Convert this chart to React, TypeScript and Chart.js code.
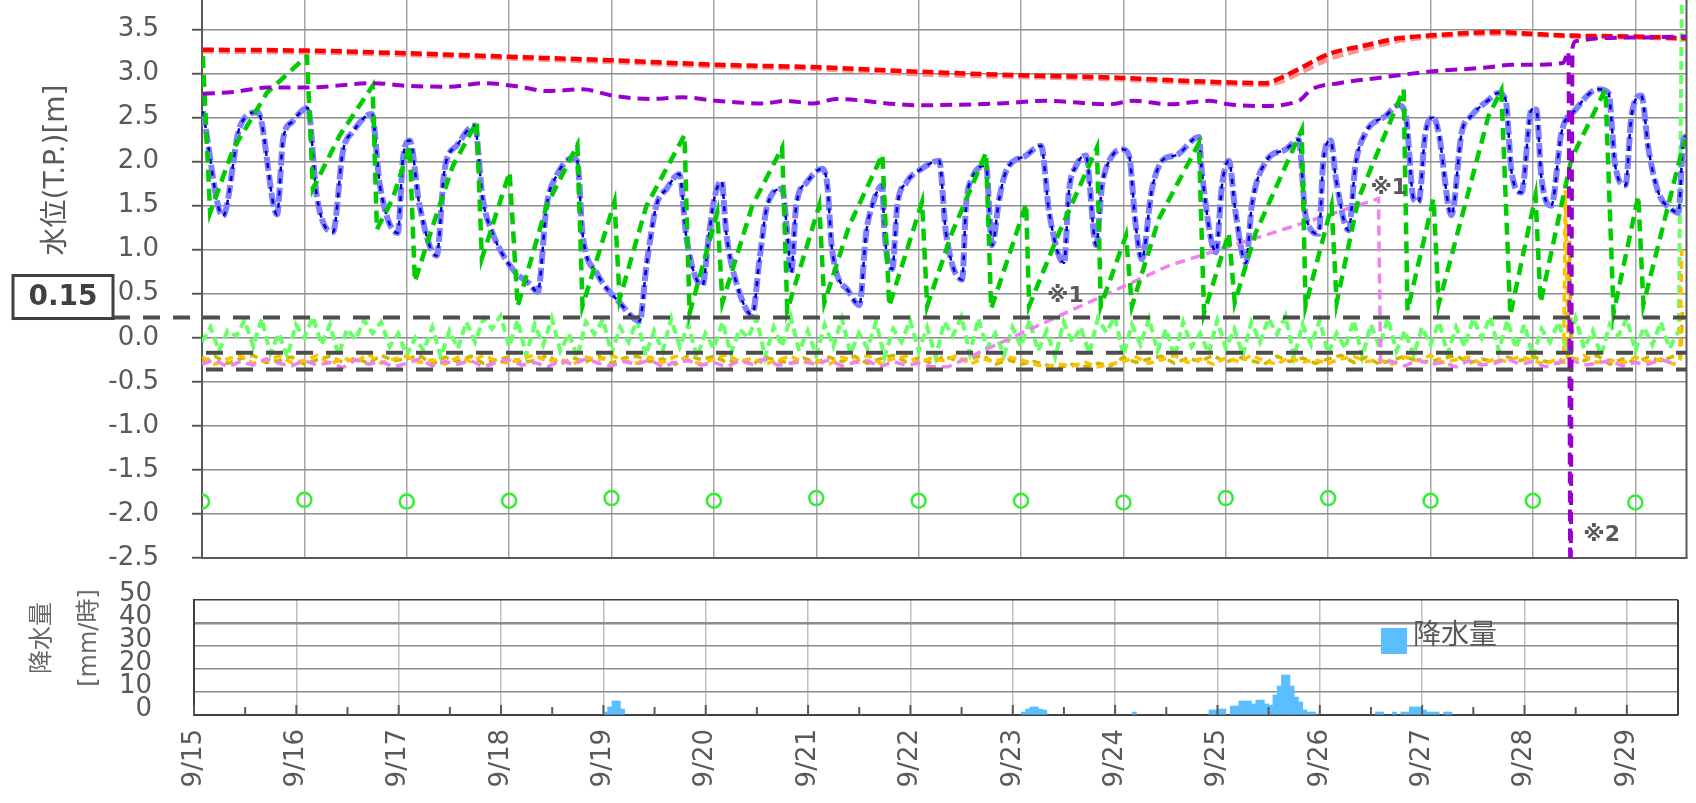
import React, { useEffect, useRef } from 'react';
import { Chart, registerables } from 'chart.js';

Chart.register(...registerables);

const FONT = '"DejaVu Sans", "Noto Sans CJK JP", sans-serif';
const TEXT = '#595959';

// ---------- axes ----------
const X_MIN = 0;
const X_MAX = 348; // hours from 9/15 00:00
const dayHours = [0, 24, 48, 72, 96, 120, 144, 168, 192, 216, 240, 264, 288, 312, 336];
const dayLabels = ['9/15', '9/16', '9/17', '9/18', '9/19', '9/20', '9/21', '9/22', '9/23', '9/24', '9/25', '9/26', '9/27', '9/28', '9/29'];
const halfDayHours = [12, 36, 60, 84, 108, 132, 156, 180, 204, 228, 252, 276, 300, 324];
const WATER_MIN = -2.5;
const WATER_MAX = 3.84;
const waterTicks = [-2.5, -2, -1.5, -1, -0.5, 0, 0.5, 1, 1.5, 2, 2.5, 3, 3.5];
const RAIN_MIN = 0;
const RAIN_MAX = 50;
const rainTicks = [0, 10, 20, 30, 40, 50];

// ---------- reference levels & notes ----------
const refLevels = [0.23, -0.17, -0.36];
const refBoxText = '0.15';
const noteTexts = ['※1', '※1', '※2'];
const noteHours = [198.1, 273.9, 323.8];
const noteLevels = [0.47, 1.7, -2.24];

// ---------- series ----------
const redT = [0.2, 24.6, 48.0, 72.1, 96.2, 120.6, 144.7, 168.1, 192.0, 216.1, 224.3, 240.0, 249.4, 252.4, 257.1, 264.1, 272.8, 280.5, 287.5, 303.9, 311.7, 321.0, 335.5, 348];
const redV = [3.27, 3.26, 3.23, 3.19, 3.15, 3.10, 3.07, 3.02, 2.98, 2.95, 2.93, 2.90, 2.89, 2.94, 3.05, 3.22, 3.32, 3.40, 3.43, 3.47, 3.45, 3.43, 3.42, 3.40];
const pinkV = [3.25, 3.24, 3.21, 3.17, 3.13, 3.08, 3.05, 2.99, 2.96, 2.93, 2.91, 2.88, 2.87, 2.90, 3.00, 3.16, 3.28, 3.37, 3.41, 3.45, 3.44, 3.42, 3.41, 3.39];

const purpleT = [0.2, 7.3, 15.2, 24.6, 40.0, 48.0, 58.1, 65.8, 74.5, 80.8, 89.2, 96.2, 104.9, 112.6, 120.6, 131.4, 137.0, 143.1, 148.7, 163.4, 168.1, 186.9, 197.9, 212.6, 218.5, 226.7, 236.0, 240.7, 247.7, 257.1, 260.1, 266.5, 275.8, 287.5, 301.6, 307.0, 311.7, 319.1, 320.3, 320.8, 321.3, 322.2, 327.3, 339.1, 348];
const purpleV = [2.77, 2.79, 2.84, 2.84, 2.89, 2.86, 2.85, 2.89, 2.85, 2.80, 2.82, 2.75, 2.71, 2.73, 2.69, 2.66, 2.69, 2.66, 2.71, 2.65, 2.64, 2.66, 2.69, 2.65, 2.69, 2.65, 2.69, 2.65, 2.63, 2.69, 2.82, 2.89, 2.95, 3.02, 3.07, 3.10, 3.10, 3.12, 3.25, -3.0, 3.30, 3.37, 3.40, 3.41, 3.42];

const blueT = [0.2, 4.9, 8.9, 13.1, 17.6, 19.0, 21.1, 24.8, 26.9, 30.7, 33.0, 35.4, 39.8, 41.7, 45.9, 47.1, 48.7, 51.0, 55.0, 56.9, 59.7, 63.9, 65.8, 68.1, 72.8, 76.8, 78.7, 80.8, 83.1, 86.9, 88.0, 89.2, 92.5, 97.9, 102.6, 104.2, 106.5, 108.9, 111.9, 113.6, 117.3, 118.9, 120.1, 121.8, 122.9, 125.3, 129.0, 130.7, 132.5, 136.0, 137.2, 138.1, 139.3, 141.7, 145.4, 146.6, 147.7, 151.7, 154.1, 155.7, 157.1, 159.5, 159.9, 161.8, 163.0, 165.1, 168.8, 172.8, 174.4, 178.2, 179.1, 180.5, 183.8, 185.2, 186.9, 188.5, 193.2, 196.7, 198.6, 202.1, 203.2, 204.9, 207.2, 209.6, 211.0, 212.6, 215.7, 217.3, 218.9, 220.3, 222.7, 225.5, 228.3, 233.7, 234.4, 237.7, 239.1, 240.7, 242.3, 244.7, 246.1, 249.4, 254.1, 257.1, 258.7, 261.8, 262.9, 264.6, 265.8, 268.8, 270.4, 272.8, 277.5, 280.5, 282.2, 284.0, 285.2, 286.8, 288.7, 289.9, 292.9, 295.3, 297.6, 301.6, 303.9, 305.6, 307.0, 309.3, 311.7, 312.8, 314.0, 316.3, 318.7, 322.0, 327.3, 329.7, 331.3, 333.7, 335.1, 337.4, 339.1, 341.4, 344.4, 346.1, 347.3, 348];
const blueV = [2.57, 1.38, 2.40, 2.56, 1.40, 2.25, 2.45, 2.61, 1.61, 1.20, 2.11, 2.34, 2.54, 1.73, 1.19, 2.03, 2.24, 1.50, 0.93, 1.92, 2.18, 2.41, 1.58, 1.19, 0.78, 0.61, 0.52, 1.50, 1.84, 2.04, 2.00, 1.19, 0.74, 0.40, 0.19, 0.82, 1.50, 1.69, 1.86, 1.12, 0.59, 1.19, 1.58, 1.78, 1.19, 0.62, 0.26, 0.89, 1.50, 1.69, 1.19, 0.73, 1.50, 1.76, 1.92, 1.73, 1.00, 0.52, 0.37, 1.19, 1.50, 1.73, 1.27, 0.78, 1.50, 1.76, 1.92, 2.01, 1.19, 0.66, 1.50, 1.81, 1.95, 1.05, 1.58, 1.89, 2.07, 2.18, 1.42, 0.85, 1.65, 1.95, 2.07, 1.05, 1.73, 2.00, 2.14, 2.07, 1.27, 0.89, 1.69, 2.03, 2.07, 2.28, 1.88, 0.97, 1.73, 2.01, 1.42, 0.85, 1.50, 2.00, 2.14, 2.25, 1.39, 1.18, 2.03, 2.24, 1.81, 1.22, 1.96, 2.33, 2.52, 2.64, 2.52, 1.58, 1.54, 2.33, 2.50, 2.33, 1.39, 2.33, 2.52, 2.70, 2.78, 2.70, 1.88, 1.65, 2.59, 2.59, 1.81, 1.50, 2.33, 2.59, 2.82, 2.78, 1.95, 1.73, 2.52, 2.75, 2.14, 1.65, 1.46, 1.42, 2.25, 2.29];

const greenT = [0.2, 1.9, 7.3, 15.2, 24.6, 26.0, 32.3, 40.0, 41.0, 44.7, 48.7, 49.9, 54.1, 58.8, 64.4, 65.6, 72.1, 74.0, 80.8, 88.0, 89.2, 96.7, 97.9, 104.2, 113.1, 114.3, 120.8, 122.0, 129.0, 136.0, 137.2, 144.7, 145.9, 151.7, 159.5, 161.1, 168.8, 170.0, 175.8, 183.8, 185.0, 193.2, 193.9, 200.9, 209.8, 210.7, 216.6, 218.0, 224.3, 233.7, 234.9, 240.7, 242.1, 247.0, 257.8, 258.7, 264.8, 266.0, 271.1, 281.7, 282.6, 288.7, 289.9, 301.6, 304.6, 306.7, 312.6, 313.8, 321.0, 329.0, 330.9, 336.7, 337.9, 346.8, 347.7];
const greenV = [3.20, 1.42, 2.14, 2.78, 3.20, 1.69, 2.30, 2.86, 1.23, 1.58, 2.18, 0.64, 1.27, 1.95, 2.45, 0.90, 1.88, 0.36, 1.50, 2.19, 0.36, 1.54, 0.44, 1.50, 2.30, 0.28, 1.42, 0.40, 1.50, 2.16, 0.31, 1.50, 0.40, 1.27, 2.08, 0.36, 1.54, 0.36, 1.19, 2.10, 0.33, 1.52, 0.36, 1.19, 2.16, 0.36, 1.16, 0.36, 1.35, 2.21, 0.28, 1.19, 0.40, 1.19, 2.36, 0.36, 1.50, 0.40, 1.58, 2.82, 0.31, 1.58, 0.38, 2.52, 2.81, 0.26, 1.61, 0.40, 2.03, 2.82, 0.28, 1.61, 0.38, 2.10, 2.25];

// light green: every 2 h from 9/15 00:00
const LIGHT_GREEN_STEP = 2;
const lightGreenV = [
  -0.05, 0.12, -0.15, 0.08, 0.02, 0.2, -0.1, 0.22, -0.18, 0.05, -0.22, 0.15,
  0.0, 0.24, -0.08, 0.15, -0.2, 0.1, -0.02, 0.2, 0.05, 0.18, -0.1, 0.05,
  -0.2, 0.0, -0.15, 0.12, -0.22, 0.08, -0.12, 0.18, -0.05, 0.22, 0.1, 0.25,
  -0.1, 0.2, -0.2, 0.15, -0.08, 0.22, -0.15, 0.05, -0.22, 0.18, 0.04, 0.21,
  -0.18, 0.12, -0.05, 0.2, -0.2, 0.08, -0.15, 0.22, -0.1, 0.15, -0.22, 0.05,
  -0.12, 0.18, -0.18, 0.1, 0.0, 0.22, -0.22, 0.12, -0.1, 0.24, -0.15, 0.08,
  -0.2, 0.15, -0.1, 0.22, -0.18, 0.05, -0.12, 0.18, -0.22, 0.1, -0.05, 0.2,
  -0.15, 0.12, -0.22, 0.18, 0.02, 0.24, -0.18, 0.22, -0.12, 0.05, -0.2, 0.12,
  -0.1, 0.2, -0.15, 0.08, -0.22, 0.18, -0.05, 0.12, -0.18, 0.22, 0.06, 0.24,
  -0.2, 0.15, -0.08, 0.22, -0.15, 0.1, -0.22, 0.18, -0.1, 0.05, -0.18, 0.2,
  -0.12, 0.1, -0.2, 0.18, -0.05, 0.22, 0.04, 0.25, -0.22, 0.15, -0.08, 0.2,
  -0.18, 0.05, -0.12, 0.2, -0.22, 0.15, -0.1, 0.22, -0.15, 0.08, -0.2, 0.12,
  -0.08, 0.18, -0.18, 0.12, -0.1, 0.22, 0.0, 0.24, -0.15, 0.2, -0.12, 0.15,
  -0.22, 0.1, -0.05, 0.18, -0.15, 0.22, -0.12, 0.08, -0.2, 0.15, 0.02, 0.22,
  -0.15, 0.12, -0.08, 0.18, -0.12,
];
const lightGreenEndT = [346.2, 347.0];
const lightGreenEndV = [0.08, 4.3];

// gold & olive: every 3 h
const NOISE_STEP = 3;
const goldV = [
  -0.22, -0.3, -0.24, -0.2, -0.29, -0.25, -0.21, -0.28,
  -0.26, -0.2, -0.3, -0.23, -0.27, -0.19, -0.29, -0.24,
  -0.21, -0.28, -0.25, -0.3, -0.22, -0.27, -0.2, -0.26,
  -0.29, -0.23, -0.2, -0.27, -0.24, -0.3, -0.22, -0.25,
  -0.2, -0.26, -0.29, -0.22, -0.28, -0.21, -0.25, -0.3,
  -0.24, -0.19, -0.27, -0.23, -0.3, -0.25, -0.21, -0.28,
  -0.26, -0.3, -0.22, -0.27, -0.2, -0.29, -0.24, -0.21,
  -0.28, -0.23, -0.26, -0.2, -0.3, -0.24, -0.27, -0.22,
  -0.25, -0.3, -0.33, -0.3, -0.32, -0.28, -0.33, -0.3,
  -0.27, -0.22, -0.29, -0.25, -0.2, -0.28, -0.24, -0.3,
  -0.23, -0.27, -0.2, -0.26, -0.3, -0.22, -0.28, -0.25,
  -0.29, -0.24, -0.21, -0.27, -0.25, -0.3, -0.22, -0.26,
  -0.2, -0.28, -0.25, -0.22, -0.3, -0.24, -0.27, -0.21,
  -0.26, -0.3, -0.23, -0.27, -0.2, -0.28, -0.25, -0.29,
  -0.22, -0.27, -0.24, -0.3,
];
const goldExtraT = [319.2, 319.6, 320.3, 346.4, 346.9];
const goldExtraV = [-0.27, 1.68, -0.26, -0.25, 1.0];

const oliveV = [
  -0.27, -0.21, -0.29, -0.24, -0.2, -0.28, -0.26, -0.22,
  -0.3, -0.25, -0.21, -0.28, -0.23, -0.29, -0.2, -0.26,
  -0.24, -0.2, -0.3, -0.22, -0.27, -0.21, -0.29, -0.25,
  -0.22, -0.28, -0.26, -0.2, -0.3, -0.23, -0.27, -0.21,
  -0.29, -0.23, -0.21, -0.27, -0.24, -0.3, -0.2, -0.25,
  -0.21, -0.28, -0.24, -0.3, -0.22, -0.26, -0.29, -0.23,
  -0.28, -0.22, -0.27, -0.21, -0.29, -0.24, -0.2, -0.27,
  -0.23, -0.29, -0.21, -0.26, -0.24, -0.2, -0.3, -0.25,
  -0.3, -0.27, -0.31, -0.34, -0.3, -0.33, -0.29, -0.32,
  -0.22, -0.28, -0.24, -0.21, -0.29, -0.23, -0.27, -0.2,
  -0.28, -0.22, -0.26, -0.3, -0.21, -0.27, -0.23, -0.29,
  -0.24, -0.2, -0.28, -0.22, -0.3, -0.25, -0.21, -0.27,
  -0.27, -0.23, -0.2, -0.29, -0.24, -0.28, -0.22, -0.26,
  -0.21, -0.27, -0.29, -0.23, -0.26, -0.2, -0.3, -0.24,
  -0.28, -0.22, -0.26, -0.21,
];
const oliveExtraT = [320.1, 320.6, 346.6, 347.1];
const oliveExtraV = [-0.25, 1.1, -0.22, 0.36];

// violet (※1): noise, ramp, noise
const violetAV = [
  -0.3, -0.25, -0.33, -0.27, -0.31, -0.24, -0.29, -0.32,
  -0.26, -0.31, -0.28, -0.34, -0.25, -0.3, -0.27, -0.33,
  -0.29, -0.24, -0.32, -0.27, -0.3, -0.26, -0.33, -0.28,
  -0.25, -0.31, -0.28, -0.33, -0.26, -0.3, -0.24, -0.29,
  -0.32, -0.27, -0.3, -0.25, -0.33, -0.28, -0.26, -0.31,
  -0.28, -0.33, -0.26, -0.3, -0.24, -0.31, -0.29, -0.27,
  -0.3, -0.25, -0.32, -0.28, -0.26, -0.33, -0.27, -0.31,
  -0.29, -0.33,
];
const violetRampT = [174.9, 226.7, 258.7, 275.8, 276.3];
const violetRampV = [-0.33, 0.82, 1.31, 1.58, -0.28];
const VIOLET_B_START = 279;
const violetBV = [-0.27, -0.32, -0.25, -0.3, -0.28, -0.33, -0.26, -0.31, -0.29, -0.24, -0.3, -0.27, -0.33, -0.28, -0.25, -0.31, -0.29, -0.26, -0.32, -0.28, -0.3, -0.25, -0.29];

// circles at each day
const circleV = [-1.86, -1.84, -1.86, -1.85, -1.82, -1.85, -1.82, -1.85, -1.85, -1.87, -1.82, -1.82, -1.85, -1.85, -1.87];

// rainfall (mm/h), hour index from 9/15 00:00
const rainHours = [96, 97, 98, 99, 100, 194, 195, 196, 197, 198, 199, 220, 238, 239, 240, 241, 243, 244, 245, 246, 247, 248, 249, 250, 251, 252, 253, 254, 255, 256, 257, 258, 259, 260, 261, 262, 277, 278, 281, 283, 284, 285, 286, 287, 288, 289, 290, 291, 293, 294];
const rainMm = [1.3, 3.5, 6.1, 6.1, 2.6, 1.3, 2.6, 3.5, 3.5, 2.6, 2.2, 1.3, 2.2, 2.2, 2.6, 2.6, 3.9, 3.9, 6.1, 6.1, 6.1, 4.8, 6.5, 6.5, 4.8, 4.3, 8.7, 12.6, 17.4, 17.4, 12.6, 7.8, 5.7, 2.2, 1.3, 1.3, 1.3, 1.3, 1.3, 1.3, 1.3, 3.5, 3.5, 3.5, 2.2, 1.3, 1.3, 1.3, 1.3, 1.3];

// ---------- helpers ----------
type P = { x: number; y: number };
const pairs = (t: number[], v: number[]): P[] => t.map((x, i) => ({ x, y: v[i] }));
const stepped = (start: number, step: number, v: number[]): P[] => v.map((y, i) => ({ x: start + i * step, y }));
const joinSorted = (...parts: P[][]): P[] => parts.flat().sort((a, b) => a.x - b.x);

const lineDs = (label: string, data: P[], color: string, width: number, dash: number[], smooth = false) => ({
  type: 'line' as const,
  label,
  data,
  borderColor: color,
  backgroundColor: color,
  borderWidth: width,
  borderDash: dash,
  borderCapStyle: 'butt' as const,
  pointRadius: 0,
  pointHoverRadius: 0,
  fill: false,
  tension: 0,
  cubicInterpolationMode: smooth ? ('monotone' as const) : ('default' as const),
});

// layout constants (pixels)
const MAIN_TOP = -10;
const MAIN_H = 585;
const MAIN_PLOT_BOTTOM = 568; // in main canvas coordinates
const RAIN_TOP = 575;
const RAIN_H = 228;
const RAIN_PLOT_BOTTOM = 140; // in rain canvas coordinates
const BOX = { x: 13, w: 100, h: 43 };
const LEGEND = { x: 1381, y: 53, size: 26 };

const mainDecor = {
  id: 'mainDecor',
  afterDatasetsDraw(chart: any) {
    const { ctx, chartArea: ca, scales } = chart;
    const x = scales.x;
    const y = scales.y;
    ctx.save();
    // right border
    ctx.strokeStyle = '#595959';
    ctx.lineWidth = 2;
    ctx.beginPath();
    ctx.moveTo(ca.right, ca.top);
    ctx.lineTo(ca.right, ca.bottom);
    ctx.stroke();
    // reference dashed lines
    ctx.strokeStyle = '#4d4d4d';
    ctx.lineWidth = 4;
    ctx.setLineDash([17, 13]);
    refLevels.forEach((lv, i) => {
      const py = y.getPixelForValue(lv);
      ctx.beginPath();
      ctx.moveTo(i === 0 ? BOX.x + BOX.w : ca.left + 4, py);
      ctx.lineTo(ca.right, py);
      ctx.stroke();
    });
    ctx.setLineDash([]);
    // value box
    const by = y.getPixelForValue(refLevels[0]) + 1;
    ctx.fillStyle = '#ffffff';
    ctx.fillRect(BOX.x, by - BOX.h, BOX.w, BOX.h);
    ctx.strokeStyle = '#404040';
    ctx.lineWidth = 3;
    ctx.strokeRect(BOX.x, by - BOX.h, BOX.w, BOX.h);
    ctx.fillStyle = '#404040';
    ctx.font = `bold 28px ${FONT}`;
    ctx.textAlign = 'center';
    ctx.textBaseline = 'middle';
    ctx.fillText(refBoxText, BOX.x + BOX.w / 2, by - BOX.h / 2 + 1);
    // notes
    ctx.font = `bold 22px ${FONT}`;
    ctx.fillStyle = TEXT;
    ctx.textAlign = 'left';
    noteTexts.forEach((t, i) => {
      ctx.fillText(t, x.getPixelForValue(noteHours[i]), y.getPixelForValue(noteLevels[i]));
    });
    // axis title
    ctx.translate(57, 170 - MAIN_TOP);
    ctx.rotate(-Math.PI / 2);
    ctx.font = `28px ${FONT}`;
    ctx.fillStyle = TEXT;
    ctx.textAlign = 'center';
    ctx.fillText('水位(T.P.)[m]', 0, 0);
    ctx.restore();
  },
};

const rainDecor = {
  id: 'rainDecor',
  afterDraw(chart: any) {
    const { ctx, chartArea: ca, scales } = chart;
    const x = scales.x;
    ctx.save();
    ctx.strokeStyle = '#404040';
    ctx.lineWidth = 2;
    ctx.beginPath();
    ctx.moveTo(ca.right, ca.top);
    ctx.lineTo(ca.right, ca.bottom);
    ctx.stroke();
    ctx.strokeStyle = '#595959';
    ctx.lineWidth = 2;
    dayHours.forEach((h) => {
      const px = x.getPixelForValue(h);
      ctx.beginPath();
      ctx.moveTo(px, ca.bottom - 10);
      ctx.lineTo(px, ca.bottom);
      ctx.stroke();
    });
    halfDayHours.forEach((h) => {
      const px = x.getPixelForValue(h);
      ctx.beginPath();
      ctx.moveTo(px, ca.bottom - 8);
      ctx.lineTo(px, ca.bottom);
      ctx.stroke();
    });
    // legend
    ctx.fillStyle = '#5bbfff';
    ctx.fillRect(LEGEND.x, LEGEND.y, LEGEND.size, LEGEND.size);
    ctx.fillStyle = TEXT;
    ctx.font = `28px ${FONT}`;
    ctx.textAlign = 'left';
    ctx.textBaseline = 'middle';
    ctx.fillText('降水量', LEGEND.x + LEGEND.size + 6, LEGEND.y + 9);
    // axis titles
    ctx.font = `24px ${FONT}`;
    ctx.fillStyle = '#666666';
    ctx.textAlign = 'center';
    ctx.save();
    ctx.translate(43, 63);
    ctx.rotate(-Math.PI / 2);
    ctx.fillText('降水量', 0, 0);
    ctx.restore();
    ctx.save();
    ctx.translate(90, 63);
    ctx.rotate(-Math.PI / 2);
    ctx.fillText('[mm/時]', 0, 0);
    ctx.restore();
    ctx.restore();
  },
};

export default function App() {
  const mainRef = useRef<HTMLCanvasElement | null>(null);
  const rainRef = useRef<HTMLCanvasElement | null>(null);

  useEffect(() => {
    Chart.defaults.font.family = FONT;
    const datasets: any[] = [
      lineDs('purple', pairs(purpleT, purpleV), '#9900cc', 4, [12, 7], true),
      lineDs('red', pairs(redT, redV), '#ff0000', 4.5, [11, 5], true),
      lineDs('pink', pairs(redT, pinkV), '#ff9494', 4.5, [11, 5], true),
      lineDs('green', pairs(greenT, greenV), '#00cc00', 4.5, [12, 7]),
      lineDs('blueDark', pairs(blueT, blueV), '#0000cc', 2.5, [5, 7], true),
      lineDs('blueLight', pairs(blueT, blueV), '#7f7fff', 6, [14, 4], true),
      lineDs('violet', joinSorted(stepped(0, NOISE_STEP, violetAV), pairs(violetRampT, violetRampV), stepped(VIOLET_B_START, NOISE_STEP, violetBV)), '#ee82ee', 3.5, [10, 6]),
      lineDs('gold', joinSorted(stepped(0, NOISE_STEP, goldV), pairs(goldExtraT, goldExtraV)), '#ffc000', 3.5, [8, 5]),
      lineDs('olive', joinSorted(stepped(0, NOISE_STEP, oliveV), pairs(oliveExtraT, oliveExtraV)), '#c9b800', 3.5, [8, 5]),
      lineDs('lightGreen', joinSorted(stepped(0, LIGHT_GREEN_STEP, lightGreenV), pairs(lightGreenEndT, lightGreenEndV)), '#66ff66', 4, [9, 5]),
      {
        type: 'line',
        label: 'circles',
        data: pairs(dayHours, circleV),
        showLine: false,
        pointRadius: 7,
        pointHoverRadius: 7,
        pointBorderWidth: 2.5,
        pointBorderColor: '#33ee33',
        pointBackgroundColor: 'rgba(0,0,0,0)',
      },
    ];

    const main = new Chart(mainRef.current as HTMLCanvasElement, {
      type: 'line',
      data: { datasets },
      options: {
        animation: false,
        responsive: false,
        devicePixelRatio: 1,
        events: [],
        layout: { padding: { top: 0, right: 9, bottom: 0, left: 0 } },
        plugins: { legend: { display: false }, tooltip: { enabled: false } },
        scales: {
          x: {
            type: 'linear',
            min: X_MIN,
            max: X_MAX,
            offset: false,
            afterBuildTicks: (s: any) => {
              s.ticks = dayHours.map((v) => ({ value: v }));
            },
            ticks: { display: false },
            grid: { color: '#a6a6a6', lineWidth: 1.5, drawTicks: false, offset: false },
            border: { display: true, color: '#595959', width: 2 },
            afterFit: (s: any) => {
              s.height = MAIN_H - MAIN_PLOT_BOTTOM;
              s.paddingLeft = 0;
              s.paddingRight = 0;
            },
          },
          y: {
            type: 'linear',
            min: WATER_MIN,
            max: WATER_MAX,
            afterBuildTicks: (s: any) => {
              s.ticks = waterTicks.map((v) => ({ value: v }));
            },
            ticks: {
              padding: 33,
              autoSkip: false,
              color: TEXT,
              font: { family: FONT, size: 26 },
              callback: (v: any) => Number(v).toFixed(1),
            },
            grid: { color: '#8c8c8c', lineWidth: 1.5, tickLength: 10, tickColor: '#595959', tickWidth: 2 },
            border: { display: true, color: '#595959', width: 2 },
            afterFit: (s: any) => {
              s.width = 202;
              s.paddingTop = 0;
              s.paddingBottom = 0;
            },
          },
        },
      } as any,
      plugins: [mainDecor],
    });

    const rain = new Chart(rainRef.current as HTMLCanvasElement, {
      type: 'bar',
      data: {
        datasets: [
          {
            label: '降水量',
            data: pairs(rainHours.map((h) => h + 0.5), rainMm),
            backgroundColor: '#5bbfff',
            borderWidth: 0,
            barPercentage: 1,
            categoryPercentage: 1,
            grouped: false,
          } as any,
        ],
      },
      options: {
        animation: false,
        responsive: false,
        devicePixelRatio: 1,
        events: [],
        layout: { padding: { top: 25, right: 18, bottom: 0, left: 0 } },
        plugins: { legend: { display: false }, tooltip: { enabled: false } },
        scales: {
          x: {
            type: 'linear',
            min: X_MIN,
            max: X_MAX,
            offset: false,
            afterBuildTicks: (s: any) => {
              s.ticks = dayHours.map((v) => ({ value: v }));
            },
            ticks: {
              autoSkip: false,
              minRotation: 90,
              maxRotation: 90,
              padding: 14,
              color: TEXT,
              font: { family: FONT, size: 26 },
              callback: (v: any) => {
                const i = dayHours.indexOf(Number(v));
                return i >= 0 ? dayLabels[i] : '';
              },
            },
            grid: { color: '#bfbfbf', lineWidth: 1.5, drawTicks: false, offset: false },
            border: { display: true, color: '#404040', width: 2 },
            afterFit: (s: any) => {
              s.height = RAIN_H - RAIN_PLOT_BOTTOM;
              s.paddingLeft = 0;
              s.paddingRight = 0;
            },
          },
          y: {
            type: 'linear',
            min: RAIN_MIN,
            max: RAIN_MAX,
            afterBuildTicks: (s: any) => {
              s.ticks = rainTicks.map((v) => ({ value: v }));
            },
            ticks: {
              padding: 42,
              labelOffset: -6,
              autoSkip: false,
              color: TEXT,
              font: { family: FONT, size: 26 },
            },
            grid: {
              drawTicks: false,
              color: (c: any) => (c.tick && c.tick.value === RAIN_MAX ? '#404040' : '#8c8c8c'),
              lineWidth: (c: any) => (c.tick && c.tick.value === 40 ? 2.5 : 1.5),
            },
            border: { display: true, color: '#404040', width: 2 },
            afterFit: (s: any) => {
              s.width = 194;
              s.paddingTop = 0;
              s.paddingBottom = 0;
            },
          },
        },
      } as any,
      plugins: [rainDecor],
    });

    return () => {
      main.destroy();
      rain.destroy();
    };
  }, []);

  return (
    <div style={{ position: 'absolute', left: 0, top: 0, width: 1696, height: 803, background: '#ffffff', overflow: 'hidden' }}>
      <canvas ref={mainRef} width={1696} height={MAIN_H} style={{ position: 'absolute', left: 0, top: MAIN_TOP, width: 1696, height: MAIN_H }} />
      <canvas ref={rainRef} width={1696} height={RAIN_H} style={{ position: 'absolute', left: 0, top: RAIN_TOP, width: 1696, height: RAIN_H }} />
    </div>
  );
}
